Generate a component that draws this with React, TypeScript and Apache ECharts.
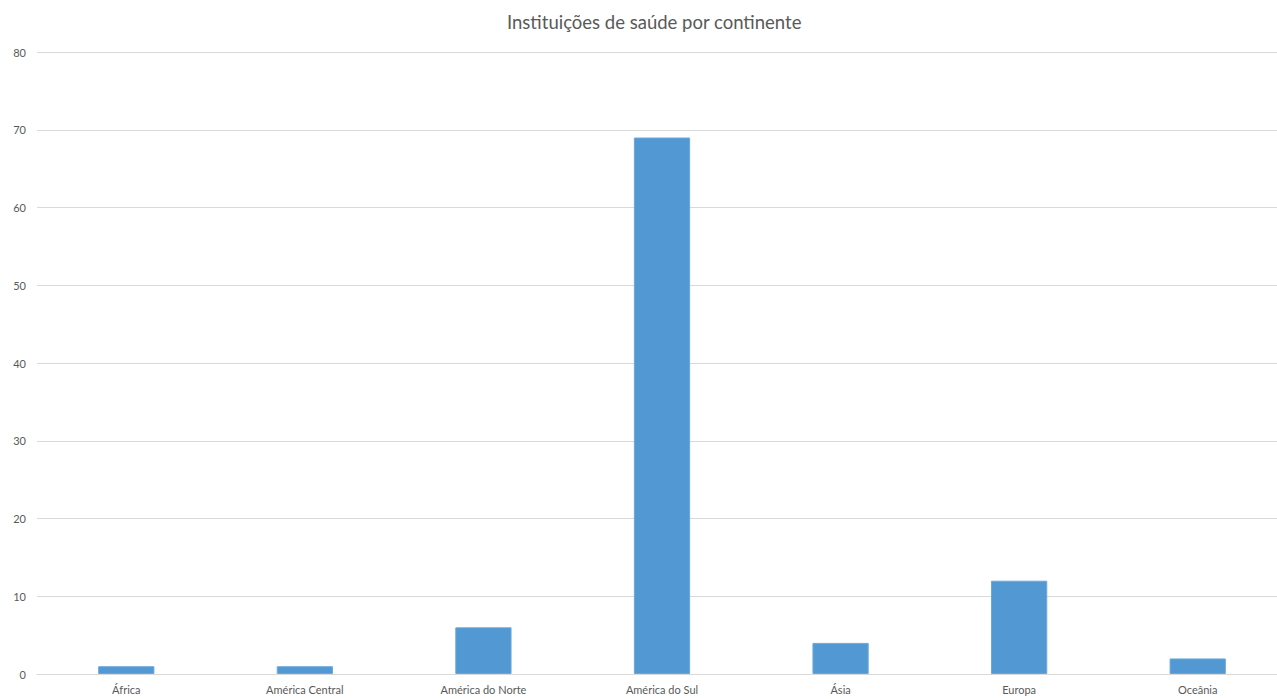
import React, { useEffect, useRef } from "react";
import * as echarts from "echarts";

const titleText = "Instituições de saúde por continente";
const categories = ["África", "América Central", "América do Norte", "América do Sul", "Ásia", "Europa", "Oceânia"];
const values = [1, 1, 6, 69, 4, 12, 2];
const yMin = 0;
const yMax = 80;
const yInterval = 10;

export default function App() {
  const ref = useRef<HTMLDivElement>(null);
  useEffect(() => {
    document.body.style.margin = "0";
    const chart = echarts.init(ref.current!, undefined, { renderer: "svg" });
    const font = "Lato, 'Open Sans', sans-serif";
    chart.setOption({
      animation: false,
      backgroundColor: "#ffffff",
      title: {
        text: titleText,
        left: 502,
        top: 7,
        textStyle: { fontFamily: font, fontSize: 18.5, fontWeight: "normal", color: "#595959" },
      },
      grid: { left: 37, top: 52, width: 1250, height: 622, containLabel: false },
      xAxis: {
        type: "category",
        data: categories,
        axisLine: { show: true, lineStyle: { color: "#d9d9d9", width: 1 } },
        axisTick: { show: false },
        axisLabel: { fontFamily: font, fontSize: 11, color: "#595959", margin: 10, interval: 0 },
      },
      yAxis: {
        type: "value",
        min: yMin,
        max: yMax,
        interval: yInterval,
        axisLine: { show: false },
        axisTick: { show: false },
        splitLine: { lineStyle: { color: "#d9d9d9", width: 1 } },
        axisLabel: { fontFamily: font, fontSize: 11, color: "#595959", margin: 11 },
      },
      series: [
        {
          type: "bar",
          data: values,
          barWidth: "31.5%",
          itemStyle: { color: "#5298d3", borderColor: "#6aa8dc", borderWidth: 1 },
        },
      ],
    });
    return () => chart.dispose();
  }, []);
  return (
    <div style={{ position: "absolute", left: 0, top: 0, width: 1277, height: 699, overflow: "hidden" }}>
      <div ref={ref} style={{ width: 1300, height: 699 }} />
    </div>
  );
}
